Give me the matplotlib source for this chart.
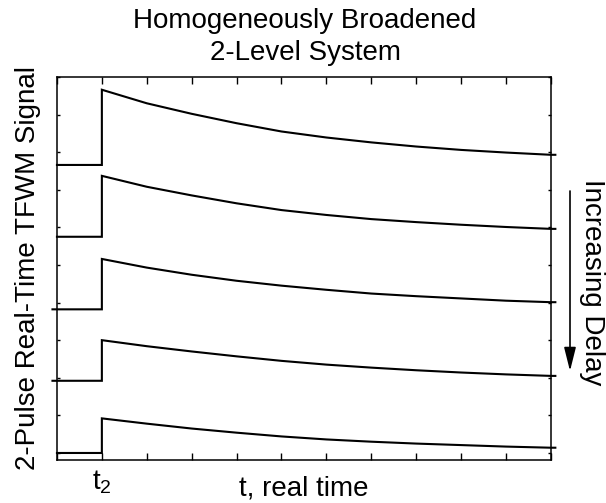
import matplotlib
matplotlib.use("Agg")
import matplotlib.pyplot as plt

plt.rcParams['font.family'] = ['Liberation Sans', 'DejaVu Sans']
plt.rcParams['mathtext.fontset'] = 'custom'
plt.rcParams['mathtext.rm'] = 'Liberation Sans'

# real-time sample points (in tick units, pulse arrives at t2 = 1)
t_samples = [1, 2, 3, 4, 5, 6, 7, 8, 9, 10, 11]
t_end = 11.1

# baseline offset of each trace, top trace = shortest delay
baselines = [7.66, 5.75, 3.82, 1.92, 0.0]
trace_start = [0.0, 0.0, -0.1, -0.1, 0.0]

# decaying signal after t2 for each delay
sig_1 = [9.66, 9.30, 9.02, 8.77, 8.55, 8.39, 8.26, 8.15, 8.06, 7.99, 7.93]
sig_2 = [7.37, 7.08, 6.85, 6.64, 6.46, 6.33, 6.22, 6.14, 6.07, 6.01, 5.96]
sig_3 = [5.16, 4.93, 4.74, 4.58, 4.45, 4.34, 4.24, 4.17, 4.11, 4.05, 4.01]
sig_4 = [3.00, 2.84, 2.70, 2.57, 2.45, 2.35, 2.27, 2.20, 2.14, 2.09, 2.05]
sig_5 = [0.92, 0.78, 0.65, 0.54, 0.44, 0.36, 0.30, 0.25, 0.21, 0.17, 0.14]
signals = [sig_1, sig_2, sig_3, sig_4, sig_5]

fig = plt.figure(figsize=(6.06, 5.03), dpi=100)
ax = fig.add_axes([0.094, 0.0845, 0.815, 0.7625])

for base, start, sig in zip(baselines, trace_start, signals):
    xs = [start, t_samples[0]] + t_samples + [t_end]
    ys = [base, base] + sig + [sig[-1]]
    ax.plot(xs, ys, color='black', lw=1.5, clip_on=False, solid_joinstyle='miter')

ax.set_xlim(0, 11)
ax.set_ylim(-0.2, 10)

ax.set_xticks(range(0, 12))
ax.set_xticklabels(['', r'$\mathregular{t_2}$'] + [''] * 10, fontsize=20)
ax.set_yticks(range(0, 11))
ax.set_yticklabels([])
ax.tick_params(axis='x', direction='in', length=5, width=1, top=True, pad=6)
ax.tick_params(axis='y', direction='in', length=2, width=1, right=True)
for s in ax.spines.values():
    s.set_linewidth(1.1)

ax.set_xlabel('t, real time', fontsize=20)
ax.xaxis.set_label_coords(0.5, -0.038)

fig.text(28 / 606, 1 - 268 / 503, '2-Pulse Real-Time TFWM Signal', rotation=90,
         ha='center', va='center', fontsize=20)
fig.text(305 / 606, 1 - 37 / 503, 'Homogeneously Broadened\n2-Level System',
         ha='center', va='center', fontsize=20, linespacing=1.3)
fig.text(592 / 606, 1 - 282 / 503, 'Increasing Delay', rotation=-90,
         ha='center', va='center', fontsize=20)

ax.annotate('', xy=(570 / 606, 1 - 371 / 503), xytext=(570 / 606, 1 - 191 / 503),
            xycoords='figure fraction', textcoords='figure fraction',
            arrowprops=dict(arrowstyle='-|>,head_length=0.72,head_width=0.18',
                            color='black', lw=1.2, shrinkA=0, shrinkB=0,
                            mutation_scale=20))

fig.savefig('out.png', dpi=100)
